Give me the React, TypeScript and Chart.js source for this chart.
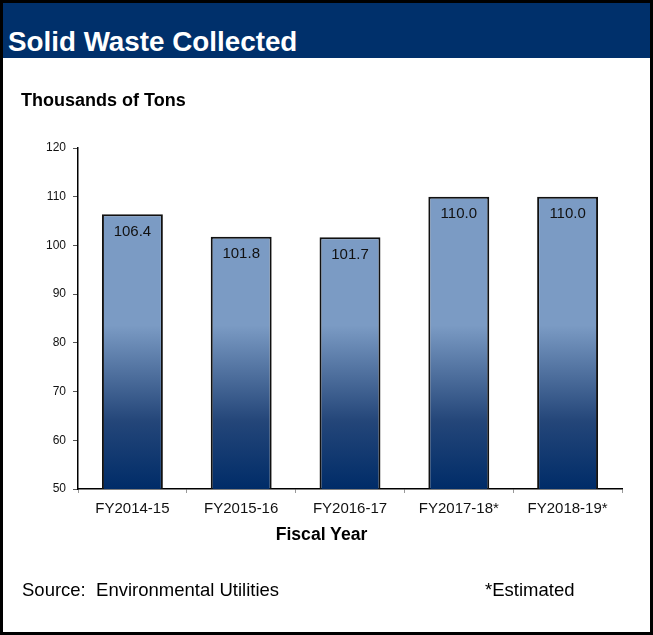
import React, { useEffect, useRef } from "react";
import { Chart, registerables } from "chart.js";

Chart.register(...registerables);

const categories = ["FY2014-15", "FY2015-16", "FY2016-17", "FY2017-18*", "FY2018-19*"];
const tonsCollected = [106.4, 101.8, 101.7, 110.0, 110.0];
const yMin = 50;
const yMax = 120;
const yStep = 10;

const FONT = "'Liberation Sans', Arial, Helvetica, sans-serif";

const barLabelPlugin = {
  id: "barLabels",
  afterDatasetsDraw(chart: any) {
    const ctx = chart.ctx;
    const meta = chart.getDatasetMeta(0);
    ctx.save();
    ctx.font = `15px ${FONT}`;
    ctx.fillStyle = "#111";
    ctx.textAlign = "center";
    ctx.textBaseline = "middle";
    meta.data.forEach((bar: any, i: number) => {
      const v = chart.data.datasets[0].data[i] as number;
      ctx.fillText(v.toFixed(1), bar.x, bar.y + 17.5);
    });
    ctx.restore();
  },
};

export default function App() {
  const canvasRef = useRef<HTMLCanvasElement | null>(null);

  useEffect(() => {
    if (!canvasRef.current) return;
    const chart = new Chart(canvasRef.current, {
      type: "bar",
      data: {
        labels: categories,
        datasets: [
          {
            data: tonsCollected,
            backgroundColor: (c: any) => {
              const ch = c.chart;
              const area = ch.chartArea;
              if (!area) return "#7B9BC4";
              const g = ch.ctx.createLinearGradient(0, area.bottom, 0, area.top);
              g.addColorStop(0, "#002C68");
              g.addColorStop(0.2, "#244679");
              g.addColorStop(0.48, "#7B9BC4");
              g.addColorStop(1, "#7B9BC4");
              return g;
            },
            borderColor: "#111",
            borderWidth: 2,
            borderSkipped: false,
            categoryPercentage: 1,
            barPercentage: 0.56,
          },
        ],
      },
      options: {
        responsive: false,
        animation: false,
        devicePixelRatio: 1,
        layout: { padding: { left: 0, top: 148, right: 31, bottom: 106 } },
        plugins: {
          legend: { display: false },
          tooltip: { enabled: false },
          title: { display: false },
        },
        scales: {
          x: {
            offset: true,
            grid: {
              display: true,
              drawOnChartArea: false,
              drawTicks: true,
              tickLength: 4,
              color: "#999",
              offset: true,
            },
            border: { color: "#000", width: 1.5 },
            ticks: {
              font: { family: FONT, size: 15 },
              color: "#111",
              padding: 7,
              maxRotation: 0,
              autoSkip: false,
            },
            afterFit: (s: any) => {
              s.height = 40;
            },
          },
          y: {
            min: yMin,
            max: yMax,
            ticks: {
              stepSize: yStep,
              font: { family: FONT, size: 12 },
              color: "#111",
              padding: 7,
            },
            grid: {
              display: true,
              drawOnChartArea: false,
              drawTicks: true,
              tickLength: 5,
              color: "#555",
            },
            border: { color: "#000", width: 1.5 },
            afterFit: (s: any) => {
              s.width = 78;
            },
          },
        },
      },
      plugins: [barLabelPlugin],
    });
    return () => chart.destroy();
  }, []);

  const abs = (o: React.CSSProperties): React.CSSProperties => ({
    position: "absolute",
    fontFamily: FONT,
    lineHeight: 1,
    whiteSpace: "nowrap",
    margin: 0,
    ...o,
  });

  return (
    <div style={{ position: "absolute", left: 0, top: 0, width: 653, height: 635, background: "#fff", overflow: "hidden" }}>
      <canvas ref={canvasRef} width={653} height={635} style={{ position: "absolute", left: 0, top: 0, width: 653, height: 635 }} />
      <div style={{ position: "absolute", left: 3, top: 3, width: 647, height: 55, background: "#00306B" }} />
      <div style={abs({ left: 8, top: 28, fontSize: 27.8, fontWeight: "bold", color: "#fff" })}>Solid Waste Collected</div>
      <div style={abs({ left: 21, top: 91, fontSize: 18, fontWeight: "bold", color: "#000" })}>Thousands of Tons</div>
      <div style={abs({ left: 221.5, width: 200, top: 526.4, fontSize: 17.6, fontWeight: "bold", color: "#000", textAlign: "center" })}>Fiscal Year</div>
      <div style={abs({ left: 22, top: 581, fontSize: 18.5, color: "#000" })}>Source:&nbsp; Environmental Utilities</div>
      <div style={abs({ left: 485, top: 581, fontSize: 18.5, color: "#000" })}>*Estimated</div>
      <div style={{ position: "absolute", left: 0, top: 0, width: 653, height: 635, boxSizing: "border-box", border: "3px solid #000", pointerEvents: "none" }} />
    </div>
  );
}
